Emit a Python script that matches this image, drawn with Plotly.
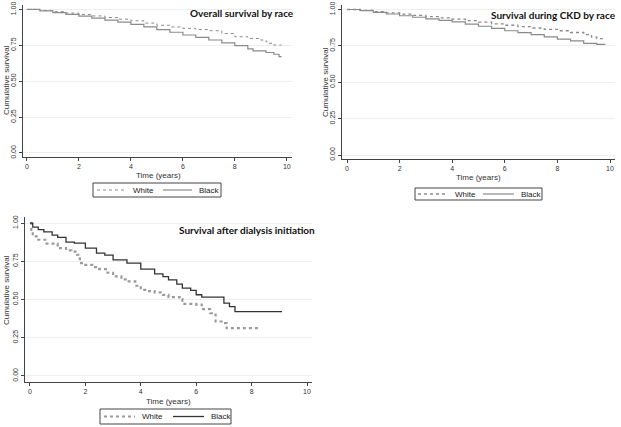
import plotly.graph_objects as go

W, H = 621, 427

# Panel 1: Overall survival by race
p1_white_t = [0, 0.5, 1, 1.5, 2, 2.5, 3, 3.5, 4, 4.5, 5, 5.5, 6, 6.5, 7, 7.5, 8, 8.5, 9, 9.2, 9.3, 9.5, 9.8]
p1_white_s = [1.0, 0.993, 0.985, 0.975, 0.965, 0.955, 0.944, 0.932, 0.921, 0.905, 0.89, 0.878, 0.868, 0.86, 0.852, 0.832, 0.81, 0.798, 0.787, 0.775, 0.764, 0.752, 0.752]
p1_black_t = [0, 0.5, 1, 1.5, 2, 2.5, 3, 3.5, 4, 4.5, 5, 5.5, 6, 6.5, 7, 7.5, 8, 8.5, 8.7, 9.2, 9.5, 9.7, 9.8]
p1_black_s = [1.0, 0.99, 0.978, 0.966, 0.954, 0.94, 0.926, 0.911, 0.896, 0.878, 0.86, 0.841, 0.822, 0.805, 0.787, 0.767, 0.748, 0.725, 0.711, 0.70, 0.688, 0.671, 0.671]

# Panel 2: Survival during CKD by race
p2_white_t = [0, 0.5, 1, 1.5, 2, 2.5, 3, 3.5, 4, 4.5, 5, 5.5, 6, 6.5, 7, 7.5, 8, 8.5, 9, 9.3, 9.5, 9.8]
p2_white_s = [1.0, 0.994, 0.985, 0.977, 0.968, 0.96, 0.951, 0.943, 0.934, 0.923, 0.913, 0.902, 0.892, 0.882, 0.873, 0.863, 0.854, 0.842, 0.828, 0.81, 0.80, 0.80]
p2_black_t = [0, 0.5, 1, 1.5, 2, 2.5, 3, 3.5, 4, 4.5, 5, 5.5, 6, 6.5, 7, 7.5, 8, 8.5, 9, 9.5, 9.8]
p2_black_s = [1.0, 0.992, 0.981, 0.969, 0.957, 0.947, 0.936, 0.926, 0.915, 0.9, 0.885, 0.87, 0.854, 0.841, 0.828, 0.812, 0.796, 0.785, 0.767, 0.76, 0.757]

# Panel 3: Survival after dialysis initiation
p3_white_t = [0, 0.05, 0.1, 0.3, 0.6, 1.0, 1.3, 1.5, 1.7, 1.8, 2.0, 2.3, 2.5, 2.8, 3.0, 3.3, 3.5, 3.8, 4.0, 4.3, 4.5, 4.8, 5.0, 5.4, 5.5, 6.0, 6.2, 6.5, 6.7, 7.0, 7.1, 8.3]
p3_white_s = [1.0, 0.956, 0.913, 0.891, 0.866, 0.836, 0.822, 0.814, 0.793, 0.738, 0.727, 0.712, 0.699, 0.675, 0.651, 0.632, 0.618, 0.59, 0.563, 0.555, 0.546, 0.53, 0.515, 0.502, 0.472, 0.467, 0.437, 0.41, 0.356, 0.345, 0.312, 0.312]
p3_black_t = [0, 0.1, 0.3, 0.5, 0.8, 1.0, 1.3, 1.6, 2.0, 2.4, 2.7, 3.0, 3.5, 4.0, 4.5, 4.8, 5.0, 5.3, 5.5, 5.8, 6.0, 6.2, 6.7, 7.0, 7.2, 7.4, 9.1]
p3_black_s = [1.0, 0.974, 0.958, 0.943, 0.922, 0.906, 0.876, 0.869, 0.836, 0.803, 0.79, 0.76, 0.738, 0.699, 0.668, 0.65, 0.629, 0.6, 0.574, 0.56, 0.531, 0.515, 0.515, 0.476, 0.454, 0.421, 0.421]

titles = ["Overall survival by race", "Survival during CKD by race", "Survival after dialysis initiation"]
series_names = ["White", "Black"]
x_ticks = [0, 2, 4, 6, 8, 10]
y_ticks = [0, 0.25, 0.5, 0.75, 1.0]

FONT = "Liberation Sans, Arial"


def px_x(p):
    return p / W


def px_y(p):
    return 1 - p / H


fig = go.Figure()

panels = [
    dict(white=(p1_white_t, p1_white_s), black=(p1_black_t, p1_black_s),
         xd=(23, 292), yd=(5, 157), xr=(-0.15, 10.2), yr=(-0.028, 1.031),
         wstyle=dict(color="#8a8a8a", width=1, dash="dot"), bstyle=dict(color="#8a8a8a", width=1.2),
         title_xy=(296, 13), xt_xy=(158, 175), yt_xy=(6, 80),
         box=(93, 183, 221, 197), wl=(97, 125), wt=131, bl=(163, 192), bt=196.5),
    dict(white=(p2_white_t, p2_white_s), black=(p2_black_t, p2_black_s),
         xd=(342, 615), yd=(5, 159), xr=(-0.19, 10.19), yr=(-0.027, 1.031),
         wstyle=dict(color="#8a8a8a", width=1.3, dash="dot"), bstyle=dict(color="#8a8a8a", width=1.2),
         title_xy=(618, 15), xt_xy=(478, 177), yt_xy=(325, 82),
         box=(415, 188, 542, 200), wl=(418, 448), wt=452.5, bl=(483, 514), bt=519),
    dict(white=(p3_white_t, p3_white_s), black=(p3_black_t, p3_black_s),
         xd=(25, 312), yd=(217, 382), xr=(-0.18, 10.18), yr=(-0.04, 1.04),
         wstyle=dict(color="#9a9a9a", width=2.2, dash="dot"), bstyle=dict(color="#333333", width=1.3),
         title_xy=(317, 230), xt_xy=(168, 401), yt_xy=(6, 290),
         box=(100, 409, 231, 424), wl=(104, 135), wt=140, bl=(173, 204), bt=209),
]

annotations = []
shapes = []
for i, p in enumerate(panels):
    k = "" if i == 0 else str(i + 1)
    xa, ya = "x" + k, "y" + k
    fig.add_trace(go.Scatter(x=p["white"][0], y=p["white"][1], mode="lines", line_shape="hv",
                             line=p["wstyle"], name=series_names[0], xaxis=xa, yaxis=ya, showlegend=False))
    fig.add_trace(go.Scatter(x=p["black"][0], y=p["black"][1], mode="lines", line_shape="hv",
                             line=p["bstyle"], name=series_names[1], xaxis=xa, yaxis=ya, showlegend=False))
    axcommon = dict(showline=True, linecolor="#444444", linewidth=1, ticks="outside", ticklen=3,
                    tickcolor="#444444", tickfont=dict(family=FONT, size=7, color="#333333"),
                    zeroline=False, fixedrange=True, automargin=False)
    fig.update_layout(**{
        "xaxis" + k: dict(domain=[px_x(p["xd"][0]), px_x(p["xd"][1])], range=list(p["xr"]),
                          tickvals=x_ticks, showgrid=False, anchor=ya, **axcommon),
        "yaxis" + k: dict(domain=[px_y(p["yd"][1]), px_y(p["yd"][0])], range=list(p["yr"]),
                          tickvals=y_ticks, tickformat=".2f", tickangle=-90, showgrid=True,
                          gridcolor="#eceff0", gridwidth=1, anchor=xa, **axcommon),
    })
    annotations.append(dict(text="<b>" + titles[i] + "</b>", x=px_x(p["title_xy"][0]), y=px_y(p["title_xy"][1]),
                            xref="paper", yref="paper", xanchor="right", yanchor="middle", showarrow=False,
                            font=dict(family="Lato", size=10, color="#111111")))
    annotations.append(dict(text="Time (years)", x=px_x(p["xt_xy"][0]), y=px_y(p["xt_xy"][1]),
                            xref="paper", yref="paper", xanchor="center", yanchor="middle", showarrow=False,
                            font=dict(family=FONT, size=8, color="#333333")))
    annotations.append(dict(text="Cumulative survival", x=px_x(p["yt_xy"][0]), y=px_y(p["yt_xy"][1]),
                            xref="paper", yref="paper", xanchor="center", yanchor="middle", showarrow=False,
                            textangle=-90, font=dict(family=FONT, size=8, color="#333333")))
    # legend box
    x0, y0, x1, y1 = p["box"]
    ym = (y0 + y1) / 2
    shapes.append(dict(type="rect", xref="paper", yref="paper", x0=px_x(x0), x1=px_x(x1),
                       y0=px_y(y1), y1=px_y(y0), line=dict(color="#444444", width=1), fillcolor="white"))
    shapes.append(dict(type="line", xref="paper", yref="paper", x0=px_x(p["wl"][0]), x1=px_x(p["wl"][1]),
                       y0=px_y(ym), y1=px_y(ym), line=p["wstyle"]))
    shapes.append(dict(type="line", xref="paper", yref="paper", x0=px_x(p["bl"][0]), x1=px_x(p["bl"][1]),
                       y0=px_y(ym), y1=px_y(ym), line=p["bstyle"]))
    annotations.append(dict(text=series_names[0], x=px_x(p["wt"]), y=px_y(ym), xref="paper", yref="paper",
                            xanchor="left", yanchor="middle", showarrow=False,
                            font=dict(family=FONT, size=8, color="#222222")))
    annotations.append(dict(text=series_names[1], x=px_x(p["bt"]), y=px_y(ym), xref="paper", yref="paper",
                            xanchor="left", yanchor="middle", showarrow=False,
                            font=dict(family=FONT, size=8, color="#222222")))

fig.update_layout(width=W, height=H, margin=dict(l=0, r=0, t=0, b=0, autoexpand=False), paper_bgcolor="white",
                  plot_bgcolor="white", annotations=annotations, shapes=shapes, showlegend=False)

fig.write_html("out.html", config={"displayModeBar": False},
               post_script="document.body.style.margin='0';document.body.style.padding='0';")
